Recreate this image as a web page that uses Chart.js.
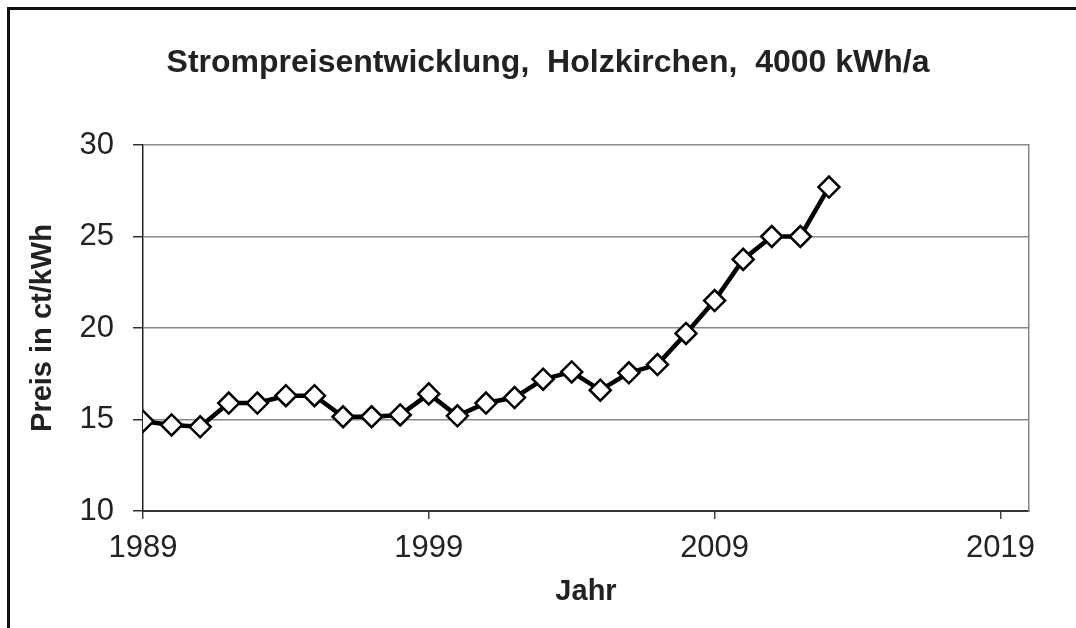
<!DOCTYPE html>
<html>
<head>
<meta charset="utf-8">
<script src="https://cdn.jsdelivr.net/npm/chart.js@4/dist/chart.umd.min.js"></script>
<style>
  body { margin: 0; background: #fff; }
  #wrap { width: 1076px; height: 628px; }
</style>
</head>
<body>
<div id="wrap"><canvas id="myChart" width="1076" height="628"></canvas></div>
<script>
const years = [1989, 1990, 1991, 1992, 1993, 1994, 1995, 1996, 1997, 1998, 1999, 2000, 2001,
    2002, 2003, 2004, 2005, 2006, 2007, 2008, 2009, 2010, 2011, 2012, 2013];
const prices = [14.9, 14.7, 14.6, 15.9, 15.9, 16.3, 16.3, 15.15, 15.15, 15.25, 16.4, 15.2, 15.9,
    16.2, 17.2, 17.6, 16.6, 17.55, 18.0, 19.7, 21.5, 23.75, 25.0, 25.0, 27.7];
const xTickYears = [1989, 1999, 2009, 2019];
const yTicks = [10, 15, 20, 25, 30];

const fontFamily = '"Liberation Sans", Arial, sans-serif';

// outer frame of the picture
const framePlugin = {
    id: 'frame',
    beforeDraw(chart) {
        let ctx = chart.ctx;
        ctx.save();
        ctx.fillStyle = '#fff';
        ctx.fillRect(0, 0, chart.width, chart.height);
        ctx.fillStyle = '#111';
        ctx.fillRect(7, 7, 3, chart.height);
        ctx.fillRect(7, 7, chart.width, 3);
        ctx.restore();
    }
};

let points = years.map((y, i) => {
    return {x: y, y: prices[i]};
});

let config = {
    type: 'line',
    data: {
        datasets: [{
            label: 'Preis',
            data: points,
            borderColor: '#000',
            borderWidth: 4.5,
            pointStyle: 'rectRot',
            pointRadius: 10.5,
            pointBackgroundColor: '#fff',
            pointBorderColor: '#000',
            pointBorderWidth: 2.5,
            tension: 0
        }]
    },
    options: {
        responsive: false,
        animation: false,
        layout: {
            padding: {left: 20, right: 0, top: 0, bottom: 0}
        },
        plugins: {
            legend: {display: false},
            tooltip: {enabled: false},
            title: {
                display: true,
                text: 'Strompreisentwicklung,  Holzkirchen,  4000 kWh/a',
                color: '#222',
                font: {family: fontFamily, size: 32, weight: 'bold', lineHeight: 1.2},
                padding: {top: 44, bottom: 62.6}
            }
        },
        scales: {
            x: {
                type: 'linear',
                min: 1989,
                max: 2020,
                afterBuildTicks: (scale) => {
                    scale.ticks = xTickYears.map((v) => ({value: v}));
                },
                afterFit: (scale) => {
                    scale.height = 117;
                },
                ticks: {
                    color: '#222',
                    font: {family: fontFamily, size: 31},
                    padding: 11,
                    maxRotation: 0,
                    callback: (value) => String(value)
                },
                grid: {
                    drawOnChartArea: false,
                    drawTicks: true,
                    tickLength: 8,
                    color: '#444',
                    lineWidth: 1.5
                },
                border: {display: true, color: '#333', width: 2},
                title: {
                    display: true,
                    text: 'Jahr',
                    color: '#222',
                    font: {family: fontFamily, size: 29, weight: 'bold', lineHeight: 1.2},
                    padding: {top: 0, bottom: 19}
                }
            },
            y: {
                min: 10,
                max: 30,
                afterBuildTicks: (scale) => {
                    scale.ticks = yTicks.map((v) => ({value: v}));
                },
                afterFit: (scale) => {
                    scale.width = 123;
                },
                ticks: {
                    color: '#222',
                    font: {family: fontFamily, size: 31},
                    padding: 19
                },
                grid: {
                    color: '#888',
                    lineWidth: 1.5,
                    tickColor: '#333',
                    tickLength: 10
                },
                border: {display: true, color: '#222', width: 1.5},
                title: {
                    display: true,
                    text: 'Preis in ct/kWh',
                    color: '#222',
                    font: {family: fontFamily, size: 29, weight: 'bold', lineHeight: 1.2},
                    padding: {top: 6, bottom: 0}
                }
            },
            // only draws the grey right edge of the plot area
            yRight: {
                position: 'right',
                min: 10,
                max: 30,
                afterFit: (scale) => {
                    scale.width = 47;
                },
                ticks: {display: false},
                grid: {display: false},
                border: {display: true, color: '#888', width: 1.5}
            }
        }
    },
    plugins: [framePlugin]
};

let ctx = document.getElementById('myChart').getContext('2d');
var myChart = new Chart(ctx, config);
</script>
</body>
</html>
